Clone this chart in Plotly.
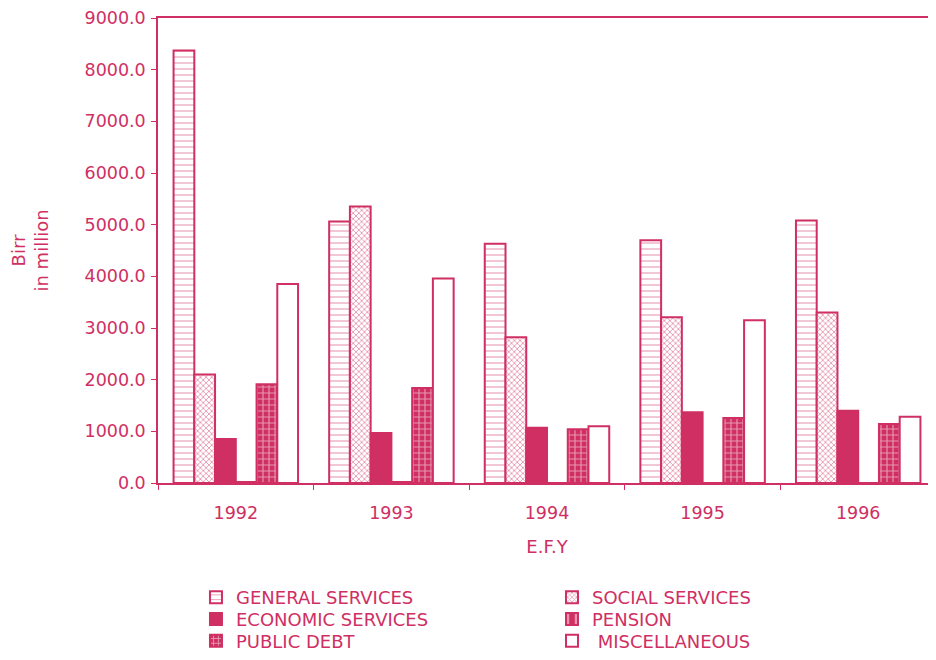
import plotly.graph_objects as go

CRIMSON = "#cf2f63"
FONT = "DejaVu Sans, sans-serif"

years = ["1992", "1993", "1994", "1995", "1996"]
general_services = [8370, 5060, 4630, 4700, 5080]
social_services = [2100, 5350, 2820, 3210, 3300]
economic_services = [850, 970, 1070, 1370, 1400]
pension = [20, 20, 0, 0, 0]
public_debt = [1910, 1840, 1040, 1260, 1140]
miscellaneous = [3850, 3960, 1100, 3150, 1280]

# name, values, fill pattern, legend slot
series = [
    ("GENERAL SERVICES", general_services, dict(shape="-", fgcolor=CRIMSON, bgcolor="white", size=6, solidity=0.18), 0),
    ("SOCIAL SERVICES", social_services, dict(shape="x", fgcolor=CRIMSON, bgcolor="white", size=4, solidity=0.4), 1),
    ("ECONOMIC SERVICES", economic_services, None, 2),
    ("PENSION", pension, dict(shape="|", fgcolor="white", bgcolor=CRIMSON, size=10, solidity=0.3), 3),
    ("PUBLIC DEBT", public_debt, dict(shape="+", fgcolor="white", bgcolor=CRIMSON, size=6, solidity=0.35), 4),
    ("\u00a0MISCELLANEOUS", miscellaneous, "empty", 5),
]

# legend grid: two columns, three rows below the plot
legend_cols = [0.0488, 0.5064]
legend_rows = [-0.2463, -0.2930, -0.3401]

fig = go.Figure()
legends = {}
for name, vals, pat, slot in series:
    if pat is None:
        marker = dict(color=CRIMSON, line=dict(color=CRIMSON, width=2))
    elif pat == "empty":
        marker = dict(color="white", line=dict(color=CRIMSON, width=2))
    else:
        marker = dict(color="white", pattern=pat, line=dict(color=CRIMSON, width=2))
    key = "legend" if slot == 0 else f"legend{slot + 1}"
    fig.add_trace(go.Bar(x=years, y=vals, name=name, marker=marker, legend=key, showlegend=True))
    legends[key] = dict(
        x=legend_cols[slot % 2], xanchor="left",
        y=legend_rows[slot // 2], yanchor="middle",
        font=dict(size=18, color=CRIMSON), bgcolor="rgba(0,0,0,0)",
        visible=True,
    )

fig.update_layout(
    width=936,
    height=660,
    showlegend=True,
    barmode="group",
    bargap=0.2,
    bargroupgap=0,
    plot_bgcolor="white",
    paper_bgcolor="white",
    font=dict(family=FONT, color=CRIMSON, size=17.5),
    margin=dict(l=150, r=8, t=10, b=181),
    xaxis=dict(
        title=dict(text="E.F.Y", font=dict(size=18), standoff=19),
        showline=True, linecolor=CRIMSON, linewidth=1.5, mirror=True,
        ticks="outside", tickson="boundaries", ticklen=5, tickcolor=CRIMSON,
        tickfont=dict(size=17.5), ticklabelstandoff=13, showgrid=False,
        automargin=False,
    ),
    yaxis=dict(
        title=dict(text="Birr<br>in million", font=dict(size=18), standoff=42),
        range=[0, 9000], dtick=1000, tickformat=".1f",
        showline=True, linecolor=CRIMSON, linewidth=1.5,
        ticks="outside", ticklen=5, tickcolor=CRIMSON,
        tickfont=dict(size=17.5), ticklabelstandoff=2, ticklabeloverflow="allow",
        showgrid=False, zeroline=False, automargin=False,
    ),
    **legends,
)

fig.write_html("out.html")
